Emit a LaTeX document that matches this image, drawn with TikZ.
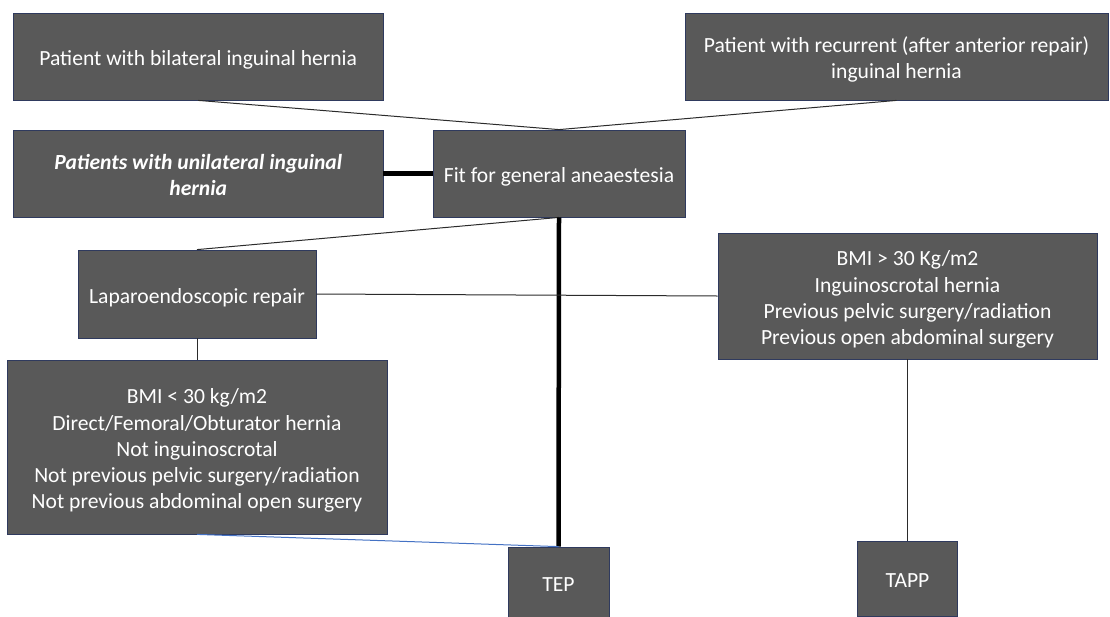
\documentclass[tikz,border=0pt]{standalone}
\usepackage{fontspec}
\setmainfont{Carlito}
\definecolor{boxfill}{HTML}{595959}
\definecolor{boxline}{HTML}{2F3A5E}
\definecolor{linec}{HTML}{2B2B2B}
\definecolor{bluel}{HTML}{4472C4}
\newcommand{\bt}[1]{\raisebox{-4pt}[\height][\depth]{\begin{tabular}{@{}c@{}}#1\end{tabular}}}
\begin{document}
\begin{tikzpicture}[x=1pt,y=-1pt,
  box/.style={draw=boxline,fill=boxfill,line width=0.8pt,text=white,inner sep=0pt,
    font=\fontsize{21.6}{26.2}\selectfont},
  thinline/.style={draw=linec,line width=1pt},
  thickline/.style={draw=black,line width=4.5pt},
  blueline/.style={draw=bluel,line width=1pt}]
\useasboundingbox (0,0) rectangle (1110,616);
\node[box,minimum width=369.5pt,minimum height=87pt] (bil) at (198.25,56.5) {\bt{Patient with bilateral inguinal hernia}};
\node[box,minimum width=423pt,minimum height=87pt] (rec) at (896.5,56.5) {\bt{Patient with recurrent (after anterior repair)\\inguinal hernia}};
\node[box,minimum width=369.5pt,minimum height=87pt] (uni) at (198.25,173.5) {\bt{\bfseries\itshape Patients with unilateral inguinal\\\bfseries\itshape hernia}};
\node[box,minimum width=252pt,minimum height=87pt] (fit) at (559,173.5) {\bt{Fit for general aneaestesia}};
\node[box,minimum width=238pt,minimum height=88pt] (lap) at (197,294) {\bt{Laparoendoscopic repair}};
\node[box,minimum width=380pt,minimum height=174pt] (bmil) at (197,447) {\bt{BMI < 30 kg/m2\\Direct/Femoral/Obturator hernia\\Not inguinoscrotal\\Not previous pelvic surgery/radiation\\Not previous abdominal open surgery}};
\node[box,minimum width=379pt,minimum height=126pt] (bmig) at (907.5,296) {\bt{BMI > 30 Kg/m2\\Inguinoscrotal hernia\\Previous pelvic surgery/radiation\\Previous open abdominal surgery}};
\node[box,minimum width=101pt,minimum height=70pt] (tep) at (558.5,582) {\bt{TEP}};
\node[box,minimum width=100pt,minimum height=75pt] (tapp) at (907.5,578.5) {\bt{TAPP}};
\draw[thinline] (bil.south) -- (fit.north);
\draw[thinline] (rec.south) -- (fit.north);
\draw[thickline] (uni.east) -- (fit.west);
\draw[thinline] (fit.south) -- (lap.north);
\draw[thickline] (fit.south) -- (tep.north);
\draw[thinline] (lap.east) -- (bmig.west);
\draw[thinline] (lap.south) -- (bmil.north);
\draw[blueline] (bmil.south) -- (tep.north);
\draw[thinline] (bmig.south) -- (tapp.north);
\end{tikzpicture}
\end{document}
